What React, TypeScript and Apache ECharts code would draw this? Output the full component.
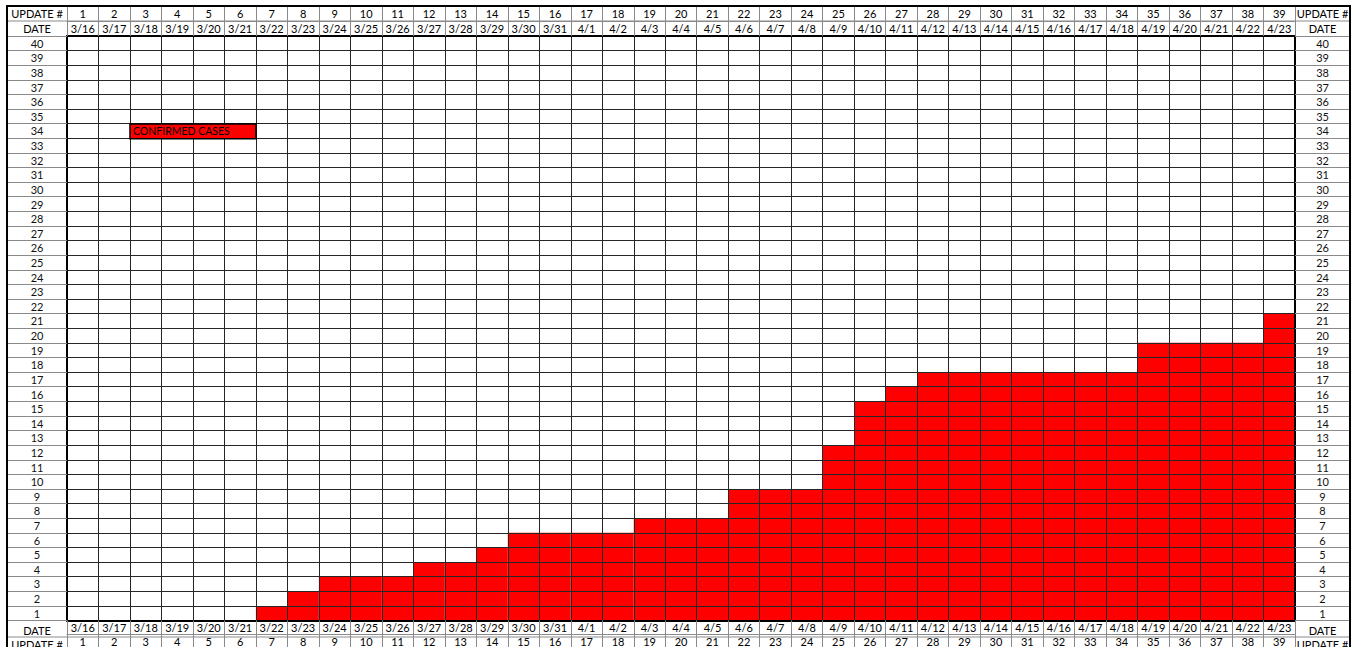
import React, { useEffect, useRef } from "react";
import * as echarts from "echarts";

const dates = [
  "3/16", "3/17", "3/18", "3/19", "3/20", "3/21", "3/22", "3/23", "3/24", "3/25",
  "3/26", "3/27", "3/28", "3/29", "3/30", "3/31", "4/1", "4/2", "4/3", "4/4",
  "4/5", "4/6", "4/7", "4/8", "4/9", "4/10", "4/11", "4/12", "4/13", "4/14",
  "4/15", "4/16", "4/17", "4/18", "4/19", "4/20", "4/21", "4/22", "4/23",
];
const updates = [
  "1", "2", "3", "4", "5", "6", "7", "8", "9", "10", "11", "12", "13", "14", "15",
  "16", "17", "18", "19", "20", "21", "22", "23", "24", "25", "26", "27", "28", "29",
  "30", "31", "32", "33", "34", "35", "36", "37", "38", "39",
];
const confirmedCases = [
  0, 0, 0, 0, 0, 0, 1, 2, 3, 3, 3, 4, 4, 5, 6, 6, 6, 6, 7, 7, 7, 9, 9, 9, 12, 15, 16,
  17, 17, 17, 17, 17, 17, 17, 19, 19, 19, 19, 21,
];
const rowLabels = [
  "1", "2", "3", "4", "5", "6", "7", "8", "9", "10", "11", "12", "13", "14", "15", "16",
  "17", "18", "19", "20", "21", "22", "23", "24", "25", "26", "27", "28", "29", "30",
  "31", "32", "33", "34", "35", "36", "37", "38", "39", "40",
];

const W = 1356;
const H = 647;
const GL = 67;
const GR = 1295;
const GT = 36;
const GB = 623;
const FONT = "Lato";
const LINE = "#262626";
const HEAD = "#8a8a8a";

export default function App() {
  const ref = useRef<HTMLDivElement>(null);
  useEffect(() => {
    if (!ref.current) return;
    const chart = echarts.init(ref.current, undefined, { renderer: "svg" });
    const gw = GR - GL;
    const gh = GB - GT;
    const cw = gw / dates.length;
    const rh = gh / rowLabels.length;
    const lbl = { fontFamily: FONT, fontSize: 11, color: "#000" };
    const mkX = (pos: string, offset: number, data: string[], tickLen: number, margin: number, lineStyle: any, extra: any = {}) => ({
      type: "category",
      gridIndex: 0,
      position: pos,
      offset,
      data,
      z: 5,
      axisLine: { show: true, lineStyle },
      axisTick: { show: true, length: tickLen, interval: 0, lineStyle: { color: HEAD, width: 1 } },
      axisLabel: { ...lbl, interval: 0, margin, verticalAlign: "middle" },
      splitLine: { show: false },
      ...extra,
    });
    const mkY = (pos: string, tickLen: number, margin: number) => ({
      type: "category",
      gridIndex: 0,
      position: pos,
      data: rowLabels,
      z: 5,
      axisLine: { show: true, lineStyle: { color: "#000", width: 2 } },
      axisTick: { show: true, length: tickLen, interval: 0, lineStyle: { color: HEAD, width: 1 } },
      axisLabel: { ...lbl, color: "#111", interval: 0, margin, align: "center", verticalAlign: "middle" },
      splitLine: { show: false },
    });
    const tx = (x: number, y: number, text: string) => ({
      type: "text",
      x,
      y,
      z: 10,
      style: { text, fill: "#000", font: `11px ${FONT}`, align: "center", verticalAlign: "middle" },
    });
    const lcx = (7 + GL) / 2;
    const rcx = (GR + 1350) / 2;
    chart.setOption({
      animation: false,
      backgroundColor: "#fff",
      grid: { left: GL, right: W - GR, top: GT, bottom: H - GB, containLabel: false },
      xAxis: [
        mkX("bottom", 0, dates, 14, 7, { color: "#000", width: 2 }, {
          splitLine: { show: true, interval: 0, lineStyle: { color: LINE, width: 1 } },
        }),
        mkX("bottom", 14, updates, 14, 7, { color: HEAD, width: 1 }),
        mkX("top", 0, dates, 15, 7.5, { color: "#000", width: 2 }),
        mkX("top", 15, updates, 15, 7.5, { color: HEAD, width: 1 }),
      ],
      yAxis: [
        {
          type: "value",
          gridIndex: 0,
          min: 0,
          max: 40,
          interval: 1,
          z: 4,
          axisLine: { show: false },
          axisTick: { show: false },
          axisLabel: { show: false },
          splitLine: { show: true, lineStyle: { color: LINE, width: 1 } },
        },
        mkY("left", GL - 7, (GL - 7) / 2),
        mkY("right", 1350 - GR, (1350 - GR) / 2),
      ],
      series: [
        {
          type: "bar",
          name: "CONFIRMED CASES",
          xAxisIndex: 0,
          yAxisIndex: 0,
          data: confirmedCases,
          barWidth: "100%",
          barCategoryGap: 0,
          z: 2,
          itemStyle: { color: "#ff0000" },
        },
      ],
      graphic: [
        {
          type: "rect",
          z: 10,
          shape: { x: 7, y: 6, width: 1343, height: 660 },
          style: { fill: "none", stroke: "#000", lineWidth: 2 },
        },
        { type: "line", z: 9, shape: { x1: 7, y1: 21, x2: 1350, y2: 21 }, style: { stroke: HEAD, lineWidth: 1 } },
        { type: "line", z: 9, shape: { x1: 7, y1: GB + 14, x2: 1350, y2: GB + 14 }, style: { stroke: HEAD, lineWidth: 1 } },
        tx(lcx, 13.5, "UPDATE #"),
        tx(lcx, 28.5, "DATE"),
        tx(rcx, 13.5, "UPDATE #"),
        tx(rcx, 28.5, "DATE"),
        tx(lcx, GB + 7, "DATE"),
        tx(lcx, GB + 21, "UPDATE #"),
        tx(rcx, GB + 7, "DATE"),
        tx(rcx, GB + 21, "UPDATE #"),
        {
          type: "rect",
          z: 10,
          shape: { x: GL + 2 * cw, y: GT + 6 * rh, width: 4 * cw, height: rh },
          style: { fill: "#ff0000", stroke: "#000", lineWidth: 1.5 },
        },
        {
          type: "text",
          z: 11,
          x: GL + 2 * cw + 3,
          y: GT + 6.5 * rh,
          style: { text: "CONFIRMED CASES", fill: "#000", font: `10.5px ${FONT}`, align: "left", verticalAlign: "middle" },
        },
      ],
    });
    return () => chart.dispose();
  }, []);
  return <div ref={ref} style={{ position: "fixed", left: 0, top: 0, width: W, height: H }} />;
}
